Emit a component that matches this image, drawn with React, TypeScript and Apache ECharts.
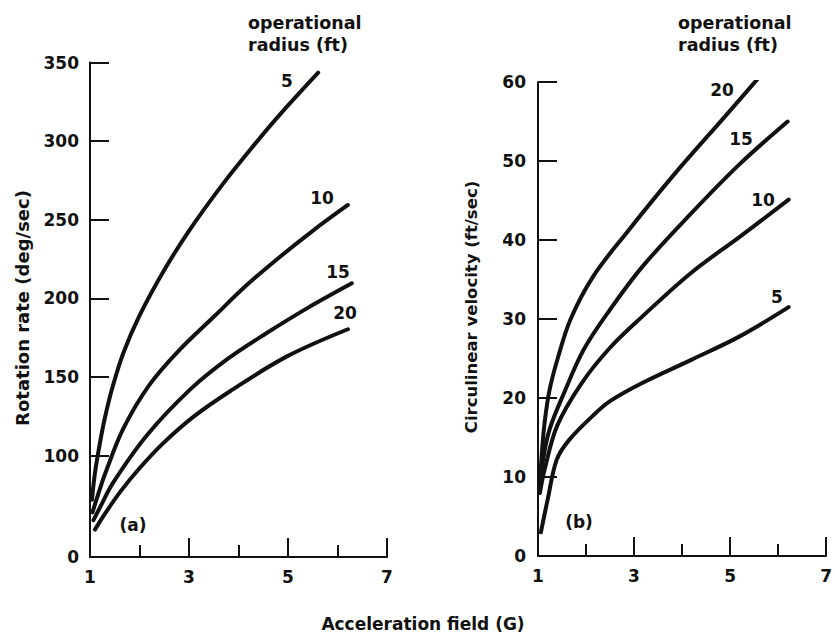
import React, { useEffect, useRef } from "react";
import * as echarts from "echarts";

// ---- Data ----
// x: acceleration field (G)
const xLabelValues = [1, 3, 5, 7];
const xMajorTicks = [3, 5, 7];
const xMinorTicks = [2, 4, 6];

// (a) rotation rate (deg/sec) – axis broken: bottom of axis labelled "0"
const rateAxisBottom = 35.6;
const rateAxisTop = 350;
const rateTicks = [100, 150, 200, 250, 300, 350];

const rate5: [number, number][] = [
  [1.04, 72], [1.1, 89], [1.2, 108], [1.3, 124], [1.45, 143], [1.67, 165],
  [2.0, 189], [2.5, 218], [3.0, 243], [3.69, 273], [4.3, 297], [4.84, 317], [5.61, 343.5],
];
const rate10: [number, number][] = [
  [1.05, 64], [1.15, 74], [1.3, 88], [1.67, 117], [2.2, 145], [2.8, 167],
  [3.49, 188], [4.15, 208], [4.84, 226.5], [5.5, 243], [6.21, 259.4],
];
const rate15: [number, number][] = [
  [1.07, 59], [1.2, 67], [1.47, 83], [2.15, 113], [3.02, 142], [3.8, 162],
  [4.57, 178], [5.4, 194], [6.29, 209.6],
];
const rate20: [number, number][] = [
  [1.1, 53], [1.3, 63], [1.61, 77], [2.0, 92], [2.48, 108], [3.1, 125],
  [3.83, 141], [4.97, 163], [6.21, 180.4],
];

// (b) circulinear velocity (ft/sec)
const velTicks = [10, 20, 30, 40, 50, 60];
const velLabels = [0, 10, 20, 30, 40, 50, 60];

const vel20: [number, number][] = [
  [1.03, 8], [1.08, 13], [1.14, 17], [1.24, 21], [1.41, 25], [1.68, 30],
  [2.15, 35.4], [2.83, 40.8], [3.85, 48.4], [4.86, 55.4], [5.59, 60.5],
];
const vel15: [number, number][] = [
  [1.03, 8], [1.1, 12], [1.24, 16], [1.54, 20.6], [1.95, 26.1], [2.49, 31.1],
  [3.17, 36.6], [4.18, 43.3], [5.2, 49.6], [6.2, 55],
];
const vel10: [number, number][] = [
  [1.04, 8], [1.14, 11], [1.4, 16.5], [1.9, 21.8], [2.49, 26.3], [3.17, 30.3],
  [4.18, 35.8], [5.2, 40.4], [6.22, 45.1],
];
const vel5: [number, number][] = [
  [1.06, 3], [1.2, 7.1], [1.39, 12.2], [1.65, 14.7], [2.15, 17.8], [2.5, 19.6],
  [3.17, 21.9], [4.18, 24.8], [5.2, 27.8], [6.22, 31.5],
];

const FONT = "DejaVu Sans";
const INK = "#111";

export default function App() {
  const ref = useRef<HTMLDivElement>(null);

  useEffect(() => {
    if (!ref.current) return;
    const chart = echarts.init(ref.current, null, { renderer: "svg" });

    const labelStyle = {
      fontFamily: FONT,
      fontWeight: "bold" as const,
      fontSize: 17,
      color: INK,
    };

    const mainX = (gridIndex: number) => ({
      type: "value",
      gridIndex,
      min: 1,
      max: 7,
      position: "bottom",
      axisLine: { show: true, lineStyle: { color: INK, width: 2 } },
      axisTick: {
        show: true,
        inside: true,
        length: 19,
        customValues: xMajorTicks,
        lineStyle: { color: INK, width: 2 },
      },
      axisLabel: {
        show: true,
        customValues: xLabelValues,
        margin: 11,
        ...labelStyle,
      },
      splitLine: { show: false },
    });
    const minorX = (gridIndex: number) => ({
      type: "value",
      gridIndex,
      min: 1,
      max: 7,
      position: "bottom",
      axisLine: { show: false },
      axisTick: {
        show: true,
        inside: true,
        length: 12,
        customValues: xMinorTicks,
        lineStyle: { color: INK, width: 2 },
      },
      axisLabel: { show: false },
      splitLine: { show: false },
    });

    const line = (data: [number, number][], xAxisIndex: number, yAxisIndex: number) => ({
      type: "line",
      data,
      xAxisIndex,
      yAxisIndex,
      smooth: 0.35,
      showSymbol: false,
      symbol: "none",
      lineStyle: { color: INK, width: 4, cap: "round", join: "round" },
      z: 3,
    });

    const txt = (text: string, x: number, y: number, extra: any = {}) => ({
      type: "text",
      x,
      y,
      style: {
        text,
        fontFamily: FONT,
        fontWeight: "bold",
        fontSize: 17,
        fill: INK,
        textAlign: "center",
        textVerticalAlign: "middle",
        ...extra,
      },
    });

    chart.setOption({
      animation: false,
      backgroundColor: "#fff",
      grid: [
        { left: 90, top: 62.5, width: 297, height: 494.5, containLabel: false },
        { left: 538, top: 82, width: 295, height: 474, containLabel: false },
      ],
      xAxis: [mainX(0), minorX(0), mainX(1), minorX(1)],
      yAxis: [
        {
          type: "value",
          gridIndex: 0,
          min: rateAxisBottom,
          max: rateAxisTop,
          axisLine: { show: true, lineStyle: { color: INK, width: 2 } },
          axisTick: {
            show: true,
            inside: true,
            length: 19,
            customValues: rateTicks,
            lineStyle: { color: INK, width: 2 },
          },
          axisLabel: {
            show: true,
            customValues: [rateAxisBottom, ...rateTicks],
            formatter: (v: number) => (v < 50 ? "0" : String(Math.round(v))),
            margin: 11,
            ...labelStyle,
          },
          splitLine: { show: false },
        },
        {
          type: "value",
          gridIndex: 1,
          min: 0,
          max: 60,
          axisLine: { show: true, lineStyle: { color: INK, width: 2 } },
          axisTick: {
            show: true,
            inside: true,
            length: 19,
            customValues: velTicks,
            lineStyle: { color: INK, width: 2 },
          },
          axisLabel: {
            show: true,
            customValues: velLabels,
            margin: 12,
            ...labelStyle,
          },
          splitLine: { show: false },
        },
      ],
      series: [
        line(rate5, 0, 0),
        line(rate10, 0, 0),
        line(rate15, 0, 0),
        line(rate20, 0, 0),
        line(vel20, 2, 1),
        line(vel15, 2, 1),
        line(vel10, 2, 1),
        line(vel5, 2, 1),
      ],
      graphic: [
        // headers
        txt("operational", 248, 23, { textAlign: "left", fontSize: 17.5 }),
        txt("radius (ft)", 248, 45, { textAlign: "left", fontSize: 17.5 }),
        txt("operational", 678, 23, { textAlign: "left", fontSize: 17.5 }),
        txt("radius (ft)", 678, 45, { textAlign: "left", fontSize: 17.5 }),
        // curve labels (a)
        txt("5", 287, 81),
        txt("10", 322, 198),
        txt("15", 338, 272),
        txt("20", 345, 313),
        // curve labels (b)
        txt("20", 722, 90),
        txt("15", 741, 139),
        txt("10", 763, 200),
        txt("5", 777, 297),
        // panel tags
        txt("(a)", 133, 525),
        txt("(b)", 579, 522),
        // axis titles
        txt("Acceleration field (G)", 423, 624),
        {
          type: "text",
          x: 22,
          y: 308,
          rotation: Math.PI / 2,
          style: {
            text: "Rotation rate (deg/sec)",
            fontFamily: FONT,
            fontWeight: "bold",
            fontSize: 18,
            fill: INK,
            textAlign: "center",
            textVerticalAlign: "middle",
          },
        },
        {
          type: "text",
          x: 471,
          y: 307,
          rotation: Math.PI / 2,
          style: {
            text: "Circulinear velocity (ft/sec)",
            fontFamily: FONT,
            fontWeight: "bold",
            fontSize: 16.5,
            fill: INK,
            textAlign: "center",
            textVerticalAlign: "middle",
          },
        },
      ],
    });

    return () => chart.dispose();
  }, []);

  return (
    <div
      ref={ref}
      style={{ position: "fixed", left: 0, top: 0, width: 835, height: 635, background: "#fff" }}
    />
  );
}
